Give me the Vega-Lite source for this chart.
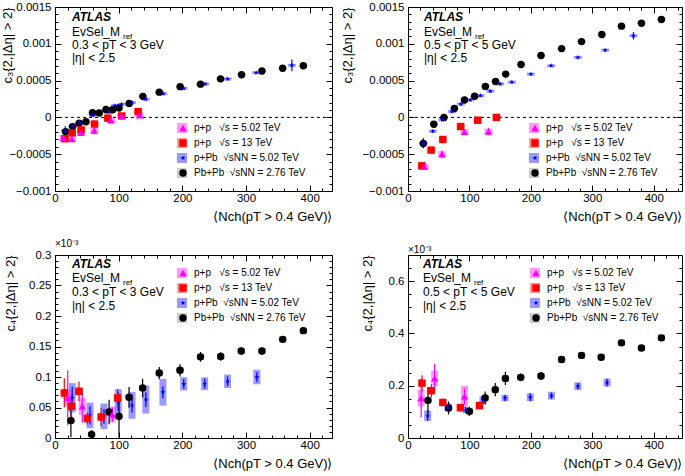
{
  "$schema": "https://vega.github.io/schema/vega-lite/v6.json",
  "padding": {"left": 0, "top": 0, "right": 0, "bottom": 0},
  "datasets": {
    "a": [
      {"s": "PbPb", "x": 16.7, "y": -0.000195, "e": 0.00004, "u": 0.00001},
      {"s": "PbPb", "x": 27.5, "y": -0.000125, "e": 0.00003, "u": 0.00001},
      {"s": "PbPb", "x": 38, "y": -0.00008, "e": 0.00002, "u": 0.00001},
      {"s": "PbPb", "x": 48.6, "y": -0.000058, "e": 0.00002, "u": 0.00001},
      {"s": "PbPb", "x": 59, "y": 0.000064, "e": 0.00001, "u": 0.00001},
      {"s": "PbPb", "x": 69.5, "y": 0.00006, "e": 0.00001, "u": 0.00001},
      {"s": "PbPb", "x": 80, "y": 0.000107, "e": 0.00001, "u": 0.00001},
      {"s": "PbPb", "x": 90.5, "y": 0.000105, "e": 0.00001, "u": 0.00001},
      {"s": "PbPb", "x": 100.5, "y": 0.000128, "e": 0.00001, "u": 0.00001},
      {"s": "PbPb", "x": 116.5, "y": 0.00019, "e": 0.00001, "u": 0.00001},
      {"s": "PbPb", "x": 138, "y": 0.000286, "e": 0.00001, "u": 0.00001},
      {"s": "PbPb", "x": 163.7, "y": 0.000343, "e": 0.00001, "u": 0.00001},
      {"s": "PbPb", "x": 196.5, "y": 0.000418, "e": 0.00001, "u": 0.00001},
      {"s": "PbPb", "x": 228.5, "y": 0.000452, "e": 0.00001, "u": 0.00001},
      {"s": "PbPb", "x": 260, "y": 0.000524, "e": 0.00001, "u": 0.00001},
      {"s": "PbPb", "x": 293, "y": 0.000579, "e": 0.00001, "u": 0.00001},
      {"s": "PbPb", "x": 325, "y": 0.000631, "e": 0.00001, "u": 0.00001},
      {"s": "PbPb", "x": 357.5, "y": 0.000667, "e": 0.00001, "u": 0.00001},
      {"s": "PbPb", "x": 390, "y": 0.000702, "e": 0.00001, "u": 0.00001},
      {"s": "pPb", "x": 16, "y": -0.00018, "e": 0.00006, "u": 0.00002},
      {"s": "pPb", "x": 28, "y": -0.00012, "e": 0.00004, "u": 0.00002},
      {"s": "pPb", "x": 39, "y": -0.00007, "e": 0.00002, "u": 0.00002},
      {"s": "pPb", "x": 59.5, "y": 0.00003, "e": 0.00001, "u": 0.00002},
      {"s": "pPb", "x": 84, "y": 0.00007, "e": 0.00001, "u": 0.00002},
      {"s": "pPb", "x": 94, "y": 0.00016, "e": 0.00001, "u": 0.00002},
      {"s": "pPb", "x": 104.6, "y": 0.000178, "e": 0.00001, "u": 0.00002},
      {"s": "pPb", "x": 121, "y": 0.0002, "e": 0.00001, "u": 0.00002},
      {"s": "pPb", "x": 142.5, "y": 0.000248, "e": 0.00001, "u": 0.00002},
      {"s": "pPb", "x": 170, "y": 0.000322, "e": 0.00001, "u": 0.00002},
      {"s": "pPb", "x": 202, "y": 0.000395, "e": 0.00001, "u": 0.00002},
      {"s": "pPb", "x": 236, "y": 0.000454, "e": 0.00001, "u": 0.00002},
      {"s": "pPb", "x": 271, "y": 0.000522, "e": 0.00001, "u": 0.00002},
      {"s": "pPb", "x": 316, "y": 0.000607, "e": 0.00001, "u": 0.00002},
      {"s": "pPb", "x": 372, "y": 0.000708, "e": 0.00008, "u": 0.00002},
      {"s": "pp13", "x": 15.7, "y": -0.00029, "e": 0.00002, "u": 0.00003},
      {"s": "pp13", "x": 27, "y": -0.00021, "e": 0.00002, "u": 0.00003},
      {"s": "pp13", "x": 41, "y": -0.00017, "e": 0.00002, "u": 0.00003},
      {"s": "pp13", "x": 62, "y": -0.00009, "e": 0.00002, "u": 0.00003},
      {"s": "pp13", "x": 83, "y": -0.00001, "e": 0.00002, "u": 0.00003},
      {"s": "pp13", "x": 104.6, "y": 0.00002, "e": 0.00002, "u": 0.00003},
      {"s": "pp13", "x": 130.5, "y": 0.000078, "e": 0.00002, "u": 0.00003},
      {"s": "pp5", "x": 13, "y": -0.00028, "e": 0.00003, "u": 0.00004},
      {"s": "pp5", "x": 26.5, "y": -0.000293, "e": 0.00003, "u": 0.00004},
      {"s": "pp5", "x": 40.8, "y": -0.00021, "e": 0.00003, "u": 0.00004},
      {"s": "pp5", "x": 61.6, "y": -0.00018, "e": 0.00005, "u": 0.00004},
      {"s": "pp5", "x": 88, "y": -0.00004, "e": 0.00002, "u": 0.00004},
      {"s": "pp5", "x": 104.6, "y": 0.00002, "e": 0.00002, "u": 0.00004},
      {"s": "pp5", "x": 133, "y": 0.00003, "e": 0.00004, "u": 0.00004}
    ],
    "b": [
      {"s": "PbPb", "x": 25, "y": -0.000355, "e": 0.00006, "u": 0.00001},
      {"s": "PbPb", "x": 42, "y": -0.000092, "e": 0.00004, "u": 0.00001},
      {"s": "PbPb", "x": 58.5, "y": 0.0, "e": 0.00002, "u": 0.00001},
      {"s": "PbPb", "x": 75.5, "y": 0.00012, "e": 0.00002, "u": 0.00001},
      {"s": "PbPb", "x": 92, "y": 0.000236, "e": 0.00001, "u": 0.00001},
      {"s": "PbPb", "x": 108.5, "y": 0.000287, "e": 0.00001, "u": 0.00001},
      {"s": "PbPb", "x": 126, "y": 0.000421, "e": 0.00001, "u": 0.00001},
      {"s": "PbPb", "x": 142.5, "y": 0.000488, "e": 0.00001, "u": 0.00001},
      {"s": "PbPb", "x": 159, "y": 0.000588, "e": 0.00001, "u": 0.00001},
      {"s": "PbPb", "x": 184, "y": 0.000718, "e": 0.00001, "u": 0.00001},
      {"s": "PbPb", "x": 216.5, "y": 0.00084, "e": 0.00001, "u": 0.00001},
      {"s": "PbPb", "x": 250, "y": 0.000935, "e": 0.00001, "u": 0.00001},
      {"s": "PbPb", "x": 282.5, "y": 0.00103, "e": 0.00001, "u": 0.00001},
      {"s": "PbPb", "x": 315.5, "y": 0.001127, "e": 0.00001, "u": 0.00001},
      {"s": "PbPb", "x": 347.5, "y": 0.00124, "e": 0.00001, "u": 0.00001},
      {"s": "PbPb", "x": 380, "y": 0.00128, "e": 0.00001, "u": 0.00001},
      {"s": "PbPb", "x": 412.5, "y": 0.00133, "e": 0.00001, "u": 0.00001},
      {"s": "pPb", "x": 25, "y": -0.00035, "e": 0.00007, "u": 0.00002},
      {"s": "pPb", "x": 40.5, "y": -0.000188, "e": 0.00002, "u": 0.00002},
      {"s": "pPb", "x": 56, "y": -0.000033, "e": 0.00001, "u": 0.00002},
      {"s": "pPb", "x": 71.5, "y": 0.00008, "e": 0.00001, "u": 0.00002},
      {"s": "pPb", "x": 86, "y": 0.000181, "e": 0.00001, "u": 0.00002},
      {"s": "pPb", "x": 101.5, "y": 0.000238, "e": 0.00001, "u": 0.00002},
      {"s": "pPb", "x": 118, "y": 0.000295, "e": 0.00001, "u": 0.00002},
      {"s": "pPb", "x": 134, "y": 0.000357, "e": 0.00001, "u": 0.00002},
      {"s": "pPb", "x": 150, "y": 0.000455, "e": 0.00001, "u": 0.00002},
      {"s": "pPb", "x": 169, "y": 0.00048, "e": 0.00001, "u": 0.00002},
      {"s": "pPb", "x": 200, "y": 0.000588, "e": 0.00001, "u": 0.00002},
      {"s": "pPb", "x": 233, "y": 0.000702, "e": 0.00001, "u": 0.00002},
      {"s": "pPb", "x": 276.5, "y": 0.000815, "e": 0.00001, "u": 0.00002},
      {"s": "pPb", "x": 321, "y": 0.000914, "e": 0.00001, "u": 0.00002},
      {"s": "pPb", "x": 367, "y": 0.00111, "e": 0.00005, "u": 0.00002},
      {"s": "pp13", "x": 22.5, "y": -0.000658, "e": 0.00002, "u": 0.00003},
      {"s": "pp13", "x": 37.7, "y": -0.000444, "e": 0.00002, "u": 0.00003},
      {"s": "pp13", "x": 56.7, "y": -0.0003, "e": 0.00002, "u": 0.00003},
      {"s": "pp13", "x": 85.7, "y": -0.000124, "e": 0.00002, "u": 0.00003},
      {"s": "pp13", "x": 113.5, "y": -0.000038, "e": 0.00002, "u": 0.00003},
      {"s": "pp13", "x": 144, "y": 0.0, "e": 0.00002, "u": 0.00003},
      {"s": "pp5", "x": 27, "y": -0.00067, "e": 0.00003, "u": 0.00004},
      {"s": "pp5", "x": 55.5, "y": -0.0005, "e": 0.00005, "u": 0.00004},
      {"s": "pp5", "x": 92, "y": -0.000197, "e": 0.00003, "u": 0.00004},
      {"s": "pp5", "x": 131, "y": -0.000192, "e": 0.00005, "u": 0.00004}
    ],
    "c": [
      {"s": "PbPb", "x": 25, "y": 0.0285, "e": 0.027, "u": 0.005},
      {"s": "PbPb", "x": 57.5, "y": 0.006, "e": 0.007, "u": 0.004},
      {"s": "PbPb", "x": 85, "y": 0.0426, "e": 0.02, "u": 0.005},
      {"s": "PbPb", "x": 100.5, "y": 0.0355, "e": 0.035, "u": 0.005},
      {"s": "PbPb", "x": 116.3, "y": 0.0667, "e": 0.017, "u": 0.005},
      {"s": "PbPb", "x": 137.6, "y": 0.082, "e": 0.015, "u": 0.005},
      {"s": "PbPb", "x": 163.7, "y": 0.1065, "e": 0.01, "u": 0.005},
      {"s": "PbPb", "x": 196.3, "y": 0.111, "e": 0.01, "u": 0.005},
      {"s": "PbPb", "x": 228.5, "y": 0.133, "e": 0.008, "u": 0.005},
      {"s": "PbPb", "x": 260.2, "y": 0.1335, "e": 0.007, "u": 0.005},
      {"s": "PbPb", "x": 292.5, "y": 0.1425, "e": 0.006, "u": 0.005},
      {"s": "PbPb", "x": 325, "y": 0.1425, "e": 0.006, "u": 0.005},
      {"s": "PbPb", "x": 357.6, "y": 0.1617, "e": 0.005, "u": 0.005},
      {"s": "PbPb", "x": 390, "y": 0.176, "e": 0.005, "u": 0.005},
      {"s": "pPb", "x": 27, "y": 0.066, "e": 0.018, "u": 0.024},
      {"s": "pPb", "x": 54.9, "y": 0.037, "e": 0.015, "u": 0.021},
      {"s": "pPb", "x": 76.9, "y": 0.0355, "e": 0.012, "u": 0.021},
      {"s": "pPb", "x": 99.3, "y": 0.06, "e": 0.015, "u": 0.02},
      {"s": "pPb", "x": 121, "y": 0.0535, "e": 0.012, "u": 0.022},
      {"s": "pPb", "x": 142.7, "y": 0.063, "e": 0.012, "u": 0.023},
      {"s": "pPb", "x": 169.5, "y": 0.075, "e": 0.01, "u": 0.022},
      {"s": "pPb", "x": 202.2, "y": 0.0888, "e": 0.008, "u": 0.011},
      {"s": "pPb", "x": 235, "y": 0.089, "e": 0.008, "u": 0.0105},
      {"s": "pPb", "x": 271, "y": 0.093, "e": 0.008, "u": 0.011},
      {"s": "pPb", "x": 317, "y": 0.1, "e": 0.008, "u": 0.012},
      {"s": "pp13", "x": 14.6, "y": 0.0738, "e": 0.024, "u": 0.006},
      {"s": "pp13", "x": 26, "y": 0.052, "e": 0.02, "u": 0.006},
      {"s": "pp13", "x": 37.6, "y": 0.0766, "e": 0.016, "u": 0.006},
      {"s": "pp13", "x": 50.7, "y": 0.032, "e": 0.01, "u": 0.006},
      {"s": "pp13", "x": 72.5, "y": 0.0345, "e": 0.015, "u": 0.006},
      {"s": "pp13", "x": 98.3, "y": 0.0656, "e": 0.015, "u": 0.006},
      {"s": "pp5", "x": 20, "y": 0.066, "e": 0.045, "u": 0.014},
      {"s": "pp5", "x": 42.8, "y": 0.052, "e": 0.027, "u": 0.014},
      {"s": "pp5", "x": 90, "y": 0.0385, "e": 0.012, "u": 0.013}
    ],
    "d": [
      {"s": "PbPb", "x": 32.5, "y": 0.144, "e": 0.05, "u": 0.012},
      {"s": "PbPb", "x": 66, "y": 0.115, "e": 0.025, "u": 0.012},
      {"s": "PbPb", "x": 100, "y": 0.102, "e": 0.018, "u": 0.012},
      {"s": "PbPb", "x": 125.5, "y": 0.153, "e": 0.025, "u": 0.012},
      {"s": "PbPb", "x": 142, "y": 0.185, "e": 0.025, "u": 0.012},
      {"s": "PbPb", "x": 158.5, "y": 0.228, "e": 0.025, "u": 0.012},
      {"s": "PbPb", "x": 183.5, "y": 0.232, "e": 0.015, "u": 0.012},
      {"s": "PbPb", "x": 216.5, "y": 0.237, "e": 0.015, "u": 0.012},
      {"s": "PbPb", "x": 250, "y": 0.3, "e": 0.012, "u": 0.012},
      {"s": "PbPb", "x": 282.5, "y": 0.316, "e": 0.012, "u": 0.012},
      {"s": "PbPb", "x": 314.5, "y": 0.309, "e": 0.01, "u": 0.012},
      {"s": "PbPb", "x": 347.5, "y": 0.364, "e": 0.01, "u": 0.012},
      {"s": "PbPb", "x": 380, "y": 0.344, "e": 0.01, "u": 0.012},
      {"s": "PbPb", "x": 412.5, "y": 0.383, "e": 0.01, "u": 0.012},
      {"s": "pPb", "x": 32, "y": 0.0855, "e": 0.02, "u": 0.02},
      {"s": "pPb", "x": 65, "y": 0.117, "e": 0.012, "u": 0.015},
      {"s": "pPb", "x": 94, "y": 0.107, "e": 0.012, "u": 0.012},
      {"s": "pPb", "x": 122, "y": 0.144, "e": 0.015, "u": 0.015},
      {"s": "pPb", "x": 158, "y": 0.153, "e": 0.012, "u": 0.012},
      {"s": "pPb", "x": 199, "y": 0.156, "e": 0.015, "u": 0.015},
      {"s": "pPb", "x": 233.5, "y": 0.162, "e": 0.012, "u": 0.015},
      {"s": "pPb", "x": 276.5, "y": 0.198, "e": 0.012, "u": 0.015},
      {"s": "pPb", "x": 324, "y": 0.212, "e": 0.015, "u": 0.015},
      {"s": "pp13", "x": 22.8, "y": 0.21, "e": 0.03, "u": 0.01},
      {"s": "pp13", "x": 38, "y": 0.181, "e": 0.025, "u": 0.01},
      {"s": "pp13", "x": 56.7, "y": 0.136, "e": 0.015, "u": 0.01},
      {"s": "pp13", "x": 85.3, "y": 0.116, "e": 0.015, "u": 0.01},
      {"s": "pp13", "x": 116.3, "y": 0.124, "e": 0.015, "u": 0.01},
      {"s": "pp5", "x": 21.4, "y": 0.153, "e": 0.075, "u": 0.032},
      {"s": "pp5", "x": 43.3, "y": 0.228, "e": 0.055, "u": 0.03},
      {"s": "pp5", "x": 92, "y": 0.16, "e": 0.03, "u": 0.04}
    ]
  },
  "columns": 2,
  "align": "each",
  "spacing": {"column": 7, "row": 14},
  "resolve": {
    "scale": {"color": "independent", "fill": "independent", "shape": "independent", "opacity": "independent"},
    "legend": {"color": "independent", "fill": "independent", "shape": "independent"}
  },
  "concat": [
    {
      "width": 277, "height": 184,
      "data": {"name": "a"},
      "resolve": {"axis": {"x": "independent", "y": "independent"}, "scale": {"color": "independent", "fill": "independent", "shape": "independent", "opacity": "independent"}, "legend": {"color": "independent", "fill": "independent", "shape": "independent"}},
      "layer": [
        {
          "mark": {"type": "errorbar", "thickness": 8},
          "encoding": {
            "x": {"field": "x", "type": "quantitative", "scale": {"domain": [0, 435], "nice": false}, "axis": {"orient": "bottom", "values": [0, 100, 200, 300, 400], "title": "⟨Nch(pT > 0.4 GeV)⟩", "titleAnchor": "end", "labelOverlap": false, "labelPadding": 7.5, "titlePadding": 6}},
            "y": {"field": "y", "type": "quantitative", "scale": {"domain": [-0.001, 0.0015], "nice": false}, "axis": {"orient": "left", "values": [-0.001, -0.0005, 0, 0.0005, 0.001, 0.0015], "format": "~g", "labelOverlap": false, "title": "c₃{2,|Δη| > 2}", "titleAnchor": "end", "minExtent": 38, "maxExtent": 38, "titlePadding": 3}},
            "yError": {"field": "u"},
            "color": {"field": "s", "type": "nominal", "scale": {"domain": ["pp5", "pp13", "pPb", "PbPb"], "range": ["#ff00ff", "#ff0000", "#0000ff", "#000000"]}, "legend": null},
            "opacity": {"field": "s", "type": "nominal", "scale": {"domain": ["pp5", "pp13", "pPb", "PbPb"], "range": [0.4, 0.4, 0.4, 0.2]}, "legend": null}
          }
        },
        {
          "data": {"values": [{}]},
          "mark": {"type": "rule", "strokeDash": [3, 3], "color": "#000", "strokeWidth": 1},
          "encoding": {"y": {"datum": 0, "type": "quantitative", "axis": null}}
        },
        {
          "mark": {"type": "errorbar", "thickness": 1.2},
          "encoding": {
            "x": {"field": "x", "type": "quantitative", "scale": {"domain": [0, 435], "nice": false}, "axis": {"orient": "bottom", "values": [20, 40, 60, 80, 120, 140, 160, 180, 220, 240, 260, 280, 320, 340, 360, 380, 420], "labels": false, "title": null, "tickSize": -3, "minExtent": 0, "maxExtent": 0}},
            "y": {"field": "y", "type": "quantitative", "scale": {"domain": [-0.001, 0.0015], "nice": false}, "axis": {"orient": "left", "values": [-0.0009, -0.0008, -0.0007, -0.0006, -0.0004, -0.0003, -0.0002, -0.0001, 0.0001, 0.0002, 0.0003, 0.0004, 0.0006, 0.0007, 0.0008, 0.0009, 0.0011, 0.0012, 0.0013, 0.0014], "labels": false, "title": null, "tickSize": -3, "minExtent": 0, "maxExtent": 0}},
            "yError": {"field": "e"},
            "color": {"field": "s", "type": "nominal", "scale": {"domain": ["pp5", "pp13", "pPb", "PbPb"], "range": ["#ff00ff", "#ff0000", "#0000ff", "#000000"]}, "legend": null}
          }
        },
        {
          "mark": {"type": "point", "filled": true, "size": 55, "opacity": 1, "strokeWidth": 0},
          "encoding": {
            "x": {"field": "x", "type": "quantitative", "scale": {"domain": [0, 435], "nice": false}, "axis": {"orient": "top", "values": [0, 100, 200, 300, 400], "labels": false, "title": null, "minExtent": 0, "maxExtent": 0}},
            "y": {"field": "y", "type": "quantitative", "scale": {"domain": [-0.001, 0.0015], "nice": false}, "axis": {"orient": "right", "values": [-0.001, -0.0005, 0, 0.0005, 0.001, 0.0015], "labels": false, "title": null, "minExtent": 0, "maxExtent": 0}},
            "color": {"field": "s", "type": "nominal", "scale": {"domain": ["pp5", "pp13", "pPb", "PbPb"], "range": ["#ff00ff", "#ff0000", "#0000ff", "#000000"]},
              "legend": {"orient": "none", "legendX": 123, "legendY": 116, "title": null, "labelExpr": "{'pp5':'p+p\u00a0\u00a0\u00a0√s = 5.02 TeV','pp13':'p+p\u00a0\u00a0\u00a0√s = 13 TeV','pPb':'p+Pb\u00a0\u00a0√sNN = 5.02 TeV','PbPb':'Pb+Pb\u00a0\u00a0√sNN = 2.76 TeV'}[datum.value]", "symbolSize": 55, "labelFontSize": 10, "rowPadding": 5, "labelOffset": 6}},
            "shape": {"field": "s", "type": "nominal", "scale": {"domain": ["pp5", "pp13", "pPb", "PbPb"], "range": ["triangle-up", "square", "M0,-0.7L0.17,-0.24L0.67,-0.22L0.28,0.09L0.41,0.57L0,0.29L-0.41,0.57L-0.28,0.09L-0.67,-0.22L-0.17,-0.24Z", "circle"]},
              "legend": {"orient": "none", "legendX": 123, "legendY": 116, "title": null, "labelExpr": "{'pp5':'p+p\u00a0\u00a0\u00a0√s = 5.02 TeV','pp13':'p+p\u00a0\u00a0\u00a0√s = 13 TeV','pPb':'p+Pb\u00a0\u00a0√sNN = 5.02 TeV','PbPb':'Pb+Pb\u00a0\u00a0√sNN = 2.76 TeV'}[datum.value]", "symbolSize": 55, "labelFontSize": 10, "rowPadding": 5, "labelOffset": 6}}
          }
        },
        {
          "transform": [{"filter": "false"}],
          "mark": {"type": "point", "shape": "square", "filled": true, "opacity": 1},
          "encoding": {
            "x": {"field": "x", "type": "quantitative", "scale": {"domain": [0, 435], "nice": false}, "axis": {"orient": "top", "values": [20, 40, 60, 80, 120, 140, 160, 180, 220, 240, 260, 280, 320, 340, 360, 380, 420], "labels": false, "title": null, "tickSize": -3, "minExtent": 0, "maxExtent": 0}},
            "y": {"field": "y", "type": "quantitative", "scale": {"domain": [-0.001, 0.0015], "nice": false}, "axis": {"orient": "right", "values": [-0.0009, -0.0008, -0.0007, -0.0006, -0.0004, -0.0003, -0.0002, -0.0001, 0.0001, 0.0002, 0.0003, 0.0004, 0.0006, 0.0007, 0.0008, 0.0009, 0.0011, 0.0012, 0.0013, 0.0014], "labels": false, "title": null, "tickSize": -3, "minExtent": 0, "maxExtent": 0}},
            "fill": {"field": "k", "type": "nominal", "scale": {"domain": ["b1", "b2", "b3", "b4"], "range": ["rgba(255,0,255,0.4)", "rgba(255,0,0,0.4)", "rgba(0,0,255,0.4)", "rgba(0,0,0,0.2)"]},
              "legend": {"orient": "none", "legendX": 122, "legendY": 116, "title": null, "symbolType": "square", "symbolSize": 100, "symbolStrokeWidth": 0, "labelExpr": "''", "labelFontSize": 10, "rowPadding": 5, "labelOffset": 6}}
          }
        },
        {"data": {"values": [{}]}, "mark": {"type": "text", "text": "ATLAS", "fontStyle": "italic", "fontWeight": "bold", "fontSize": 12, "align": "left", "baseline": "middle", "x": 17, "y": 10}},
        {"data": {"values": [{}]}, "mark": {"type": "text", "text": "EvSel_M", "fontSize": 12, "align": "left", "baseline": "middle", "x": 17, "y": 25}},
        {"data": {"values": [{}]}, "mark": {"type": "text", "text": "ref", "fontSize": 8, "align": "left", "baseline": "middle", "x": 68, "y": 30}},
        {"data": {"values": [{}]}, "mark": {"type": "text", "text": "0.3 < pT < 3 GeV", "fontSize": 12, "align": "left", "baseline": "middle", "x": 17, "y": 38}},
        {"data": {"values": [{}]}, "mark": {"type": "text", "text": "|η| < 2.5", "fontSize": 12, "align": "left", "baseline": "middle", "x": 17, "y": 51}}
      ]
    },
    {
      "width": 274, "height": 184,
      "data": {"name": "b"},
      "resolve": {"axis": {"x": "independent", "y": "independent"}, "scale": {"color": "independent", "fill": "independent", "shape": "independent", "opacity": "independent"}, "legend": {"color": "independent", "fill": "independent", "shape": "independent"}},
      "layer": [
        {
          "mark": {"type": "errorbar", "thickness": 8},
          "encoding": {
            "x": {"field": "x", "type": "quantitative", "scale": {"domain": [0, 446], "nice": false}, "axis": {"orient": "bottom", "values": [0, 100, 200, 300, 400], "title": "⟨Nch(pT > 0.4 GeV)⟩", "titleAnchor": "end", "labelOverlap": false, "labelPadding": 7.5, "titlePadding": 6}},
            "y": {"field": "y", "type": "quantitative", "scale": {"domain": [-0.001, 0.0015], "nice": false}, "axis": {"orient": "left", "values": [-0.001, -0.0005, 0, 0.0005, 0.001, 0.0015], "format": "~g", "labelOverlap": false, "title": "c₃{2,|Δη| > 2}", "titleAnchor": "end", "minExtent": 40, "maxExtent": 40, "titlePadding": 14}},
            "yError": {"field": "u"},
            "color": {"field": "s", "type": "nominal", "scale": {"domain": ["pp5", "pp13", "pPb", "PbPb"], "range": ["#ff00ff", "#ff0000", "#0000ff", "#000000"]}, "legend": null},
            "opacity": {"field": "s", "type": "nominal", "scale": {"domain": ["pp5", "pp13", "pPb", "PbPb"], "range": [0.4, 0.4, 0.4, 0.2]}, "legend": null}
          }
        },
        {
          "data": {"values": [{}]},
          "mark": {"type": "rule", "strokeDash": [3, 3], "color": "#000", "strokeWidth": 1},
          "encoding": {"y": {"datum": 0, "type": "quantitative", "axis": null}}
        },
        {
          "mark": {"type": "errorbar", "thickness": 1.2},
          "encoding": {
            "x": {"field": "x", "type": "quantitative", "scale": {"domain": [0, 446], "nice": false}, "axis": {"orient": "bottom", "values": [20, 40, 60, 80, 120, 140, 160, 180, 220, 240, 260, 280, 320, 340, 360, 380, 420, 440], "labels": false, "title": null, "tickSize": -3, "minExtent": 0, "maxExtent": 0}},
            "y": {"field": "y", "type": "quantitative", "scale": {"domain": [-0.001, 0.0015], "nice": false}, "axis": {"orient": "left", "values": [-0.0009, -0.0008, -0.0007, -0.0006, -0.0004, -0.0003, -0.0002, -0.0001, 0.0001, 0.0002, 0.0003, 0.0004, 0.0006, 0.0007, 0.0008, 0.0009, 0.0011, 0.0012, 0.0013, 0.0014], "labels": false, "title": null, "tickSize": -3, "minExtent": 0, "maxExtent": 0}},
            "yError": {"field": "e"},
            "color": {"field": "s", "type": "nominal", "scale": {"domain": ["pp5", "pp13", "pPb", "PbPb"], "range": ["#ff00ff", "#ff0000", "#0000ff", "#000000"]}, "legend": null}
          }
        },
        {
          "mark": {"type": "point", "filled": true, "size": 55, "opacity": 1, "strokeWidth": 0},
          "encoding": {
            "x": {"field": "x", "type": "quantitative", "scale": {"domain": [0, 446], "nice": false}, "axis": {"orient": "top", "values": [0, 100, 200, 300, 400], "labels": false, "title": null, "minExtent": 0, "maxExtent": 0}},
            "y": {"field": "y", "type": "quantitative", "scale": {"domain": [-0.001, 0.0015], "nice": false}, "axis": {"orient": "right", "values": [-0.001, -0.0005, 0, 0.0005, 0.001, 0.0015], "labels": false, "title": null, "minExtent": 0, "maxExtent": 0}},
            "color": {"field": "s", "type": "nominal", "scale": {"domain": ["pp5", "pp13", "pPb", "PbPb"], "range": ["#ff00ff", "#ff0000", "#0000ff", "#000000"]},
              "legend": {"orient": "none", "legendX": 122, "legendY": 116, "title": null, "labelExpr": "{'pp5':'p+p\u00a0\u00a0\u00a0√s = 5.02 TeV','pp13':'p+p\u00a0\u00a0\u00a0√s = 13 TeV','pPb':'p+Pb\u00a0\u00a0√sNN = 5.02 TeV','PbPb':'Pb+Pb\u00a0\u00a0√sNN = 2.76 TeV'}[datum.value]", "symbolSize": 55, "labelFontSize": 10, "rowPadding": 5, "labelOffset": 6}},
            "shape": {"field": "s", "type": "nominal", "scale": {"domain": ["pp5", "pp13", "pPb", "PbPb"], "range": ["triangle-up", "square", "M0,-0.7L0.17,-0.24L0.67,-0.22L0.28,0.09L0.41,0.57L0,0.29L-0.41,0.57L-0.28,0.09L-0.67,-0.22L-0.17,-0.24Z", "circle"]},
              "legend": {"orient": "none", "legendX": 122, "legendY": 116, "title": null, "labelExpr": "{'pp5':'p+p\u00a0\u00a0\u00a0√s = 5.02 TeV','pp13':'p+p\u00a0\u00a0\u00a0√s = 13 TeV','pPb':'p+Pb\u00a0\u00a0√sNN = 5.02 TeV','PbPb':'Pb+Pb\u00a0\u00a0√sNN = 2.76 TeV'}[datum.value]", "symbolSize": 55, "labelFontSize": 10, "rowPadding": 5, "labelOffset": 6}}
          }
        },
        {
          "transform": [{"filter": "false"}],
          "mark": {"type": "point", "shape": "square", "filled": true, "opacity": 1},
          "encoding": {
            "x": {"field": "x", "type": "quantitative", "scale": {"domain": [0, 446], "nice": false}, "axis": {"orient": "top", "values": [20, 40, 60, 80, 120, 140, 160, 180, 220, 240, 260, 280, 320, 340, 360, 380, 420, 440], "labels": false, "title": null, "tickSize": -3, "minExtent": 0, "maxExtent": 0}},
            "y": {"field": "y", "type": "quantitative", "scale": {"domain": [-0.001, 0.0015], "nice": false}, "axis": {"orient": "right", "values": [-0.0009, -0.0008, -0.0007, -0.0006, -0.0004, -0.0003, -0.0002, -0.0001, 0.0001, 0.0002, 0.0003, 0.0004, 0.0006, 0.0007, 0.0008, 0.0009, 0.0011, 0.0012, 0.0013, 0.0014], "labels": false, "title": null, "tickSize": -3, "minExtent": 0, "maxExtent": 0}},
            "fill": {"field": "k", "type": "nominal", "scale": {"domain": ["b1", "b2", "b3", "b4"], "range": ["rgba(255,0,255,0.4)", "rgba(255,0,0,0.4)", "rgba(0,0,255,0.4)", "rgba(0,0,0,0.2)"]},
              "legend": {"orient": "none", "legendX": 121, "legendY": 116, "title": null, "symbolType": "square", "symbolSize": 100, "symbolStrokeWidth": 0, "labelExpr": "''", "labelFontSize": 10, "rowPadding": 5, "labelOffset": 6}}
          }
        },
        {"data": {"values": [{}]}, "mark": {"type": "text", "text": "ATLAS", "fontStyle": "italic", "fontWeight": "bold", "fontSize": 12, "align": "left", "baseline": "middle", "x": 16, "y": 10}},
        {"data": {"values": [{}]}, "mark": {"type": "text", "text": "EvSel_M", "fontSize": 12, "align": "left", "baseline": "middle", "x": 16, "y": 25}},
        {"data": {"values": [{}]}, "mark": {"type": "text", "text": "ref", "fontSize": 8, "align": "left", "baseline": "middle", "x": 67, "y": 30}},
        {"data": {"values": [{}]}, "mark": {"type": "text", "text": "0.5 < pT < 5 GeV", "fontSize": 12, "align": "left", "baseline": "middle", "x": 16, "y": 38}},
        {"data": {"values": [{}]}, "mark": {"type": "text", "text": "|η| < 2.5", "fontSize": 12, "align": "left", "baseline": "middle", "x": 16, "y": 51}}
      ]
    },
    {
      "width": 277, "height": 183,
      "title": {"text": "×10⁻³", "anchor": "start", "frame": "group", "fontSize": 10, "fontWeight": "normal", "offset": 0, "color": "#000"},
      "data": {"name": "c"},
      "resolve": {"axis": {"x": "independent", "y": "independent"}, "scale": {"color": "independent", "fill": "independent", "shape": "independent", "opacity": "independent"}, "legend": {"color": "independent", "fill": "independent", "shape": "independent"}},
      "layer": [
        {
          "mark": {"type": "errorbar", "thickness": 7},
          "encoding": {
            "x": {"field": "x", "type": "quantitative", "scale": {"domain": [0, 435], "nice": false}, "axis": {"orient": "bottom", "values": [0, 100, 200, 300, 400], "title": "⟨Nch(pT > 0.4 GeV)⟩", "titleAnchor": "end", "labelOverlap": false, "labelPadding": 7.5, "titlePadding": 6}},
            "y": {"field": "y", "type": "quantitative", "scale": {"domain": [0, 0.3], "nice": false}, "axis": {"orient": "left", "values": [0, 0.05, 0.1, 0.15, 0.2, 0.25, 0.3], "format": "~g", "labelOverlap": false, "title": "c₄{2,|Δη| > 2}", "titleAnchor": "end", "minExtent": 33, "maxExtent": 33, "titlePadding": 5}},
            "yError": {"field": "u"},
            "color": {"field": "s", "type": "nominal", "scale": {"domain": ["pp5", "pp13", "pPb", "PbPb"], "range": ["#ff00ff", "#ff0000", "#0000ff", "#000000"]}, "legend": null},
            "opacity": {"field": "s", "type": "nominal", "scale": {"domain": ["pp5", "pp13", "pPb", "PbPb"], "range": [0.4, 0.4, 0.4, 0.2]}, "legend": null}
          }
        },
        {
          "mark": {"type": "errorbar", "thickness": 1.2},
          "encoding": {
            "x": {"field": "x", "type": "quantitative", "scale": {"domain": [0, 435], "nice": false}, "axis": {"orient": "bottom", "values": [20, 40, 60, 80, 120, 140, 160, 180, 220, 240, 260, 280, 320, 340, 360, 380, 420], "labels": false, "title": null, "tickSize": -3, "minExtent": 0, "maxExtent": 0}},
            "y": {"field": "y", "type": "quantitative", "scale": {"domain": [0, 0.3], "nice": false}, "axis": {"orient": "left", "values": [0.01, 0.02, 0.03, 0.04, 0.06, 0.07, 0.08, 0.09, 0.11, 0.12, 0.13, 0.14, 0.16, 0.17, 0.18, 0.19, 0.21, 0.22, 0.23, 0.24, 0.26, 0.27, 0.28, 0.29], "labels": false, "title": null, "tickSize": -3, "minExtent": 0, "maxExtent": 0}},
            "yError": {"field": "e"},
            "color": {"field": "s", "type": "nominal", "scale": {"domain": ["pp5", "pp13", "pPb", "PbPb"], "range": ["#ff00ff", "#ff0000", "#0000ff", "#000000"]}, "legend": null}
          }
        },
        {
          "mark": {"type": "point", "filled": true, "size": 55, "opacity": 1, "strokeWidth": 0},
          "encoding": {
            "x": {"field": "x", "type": "quantitative", "scale": {"domain": [0, 435], "nice": false}, "axis": {"orient": "top", "values": [0, 100, 200, 300, 400], "labels": false, "title": null, "minExtent": 0, "maxExtent": 0}},
            "y": {"field": "y", "type": "quantitative", "scale": {"domain": [0, 0.3], "nice": false}, "axis": {"orient": "right", "values": [0, 0.05, 0.1, 0.15, 0.2, 0.25, 0.3], "labels": false, "title": null, "minExtent": 0, "maxExtent": 0}},
            "color": {"field": "s", "type": "nominal", "scale": {"domain": ["pp5", "pp13", "pPb", "PbPb"], "range": ["#ff00ff", "#ff0000", "#0000ff", "#000000"]},
              "legend": {"orient": "none", "legendX": 123, "legendY": 13, "title": null, "labelExpr": "{'pp5':'p+p\u00a0\u00a0\u00a0√s = 5.02 TeV','pp13':'p+p\u00a0\u00a0\u00a0√s = 13 TeV','pPb':'p+Pb\u00a0\u00a0√sNN = 5.02 TeV','PbPb':'Pb+Pb\u00a0\u00a0√sNN = 2.76 TeV'}[datum.value]", "symbolSize": 55, "labelFontSize": 10, "rowPadding": 5, "labelOffset": 6}},
            "shape": {"field": "s", "type": "nominal", "scale": {"domain": ["pp5", "pp13", "pPb", "PbPb"], "range": ["triangle-up", "square", "M0,-0.7L0.17,-0.24L0.67,-0.22L0.28,0.09L0.41,0.57L0,0.29L-0.41,0.57L-0.28,0.09L-0.67,-0.22L-0.17,-0.24Z", "circle"]},
              "legend": {"orient": "none", "legendX": 123, "legendY": 13, "title": null, "labelExpr": "{'pp5':'p+p\u00a0\u00a0\u00a0√s = 5.02 TeV','pp13':'p+p\u00a0\u00a0\u00a0√s = 13 TeV','pPb':'p+Pb\u00a0\u00a0√sNN = 5.02 TeV','PbPb':'Pb+Pb\u00a0\u00a0√sNN = 2.76 TeV'}[datum.value]", "symbolSize": 55, "labelFontSize": 10, "rowPadding": 5, "labelOffset": 6}}
          }
        },
        {
          "transform": [{"filter": "false"}],
          "mark": {"type": "point", "shape": "square", "filled": true, "opacity": 1},
          "encoding": {
            "x": {"field": "x", "type": "quantitative", "scale": {"domain": [0, 435], "nice": false}, "axis": {"orient": "top", "values": [20, 40, 60, 80, 120, 140, 160, 180, 220, 240, 260, 280, 320, 340, 360, 380, 420], "labels": false, "title": null, "tickSize": -3, "minExtent": 0, "maxExtent": 0}},
            "y": {"field": "y", "type": "quantitative", "scale": {"domain": [0, 0.3], "nice": false}, "axis": {"orient": "right", "values": [0.01, 0.02, 0.03, 0.04, 0.06, 0.07, 0.08, 0.09, 0.11, 0.12, 0.13, 0.14, 0.16, 0.17, 0.18, 0.19, 0.21, 0.22, 0.23, 0.24, 0.26, 0.27, 0.28, 0.29], "labels": false, "title": null, "tickSize": -3, "minExtent": 0, "maxExtent": 0}},
            "fill": {"field": "k", "type": "nominal", "scale": {"domain": ["b1", "b2", "b3", "b4"], "range": ["rgba(255,0,255,0.4)", "rgba(255,0,0,0.4)", "rgba(0,0,255,0.4)", "rgba(0,0,0,0.2)"]},
              "legend": {"orient": "none", "legendX": 122, "legendY": 13, "title": null, "symbolType": "square", "symbolSize": 100, "symbolStrokeWidth": 0, "labelExpr": "''", "labelFontSize": 10, "rowPadding": 5, "labelOffset": 6}}
          }
        },
        {"data": {"values": [{}]}, "mark": {"type": "text", "text": "ATLAS", "fontStyle": "italic", "fontWeight": "bold", "fontSize": 12, "align": "left", "baseline": "middle", "x": 17, "y": 9}},
        {"data": {"values": [{}]}, "mark": {"type": "text", "text": "EvSel_M", "fontSize": 12, "align": "left", "baseline": "middle", "x": 17, "y": 23}},
        {"data": {"values": [{}]}, "mark": {"type": "text", "text": "ref", "fontSize": 8, "align": "left", "baseline": "middle", "x": 68, "y": 28}},
        {"data": {"values": [{}]}, "mark": {"type": "text", "text": "0.3 < pT < 3 GeV", "fontSize": 12, "align": "left", "baseline": "middle", "x": 17, "y": 37}},
        {"data": {"values": [{}]}, "mark": {"type": "text", "text": "|η| < 2.5", "fontSize": 12, "align": "left", "baseline": "middle", "x": 17, "y": 51}}
      ]
    },
    {
      "width": 274, "height": 183,
      "title": {"text": "×10⁻³", "anchor": "start", "frame": "group", "fontSize": 10, "fontWeight": "normal", "offset": 0, "color": "#000"},
      "data": {"name": "d"},
      "resolve": {"axis": {"x": "independent", "y": "independent"}, "scale": {"color": "independent", "fill": "independent", "shape": "independent", "opacity": "independent"}, "legend": {"color": "independent", "fill": "independent", "shape": "independent"}},
      "layer": [
        {
          "mark": {"type": "errorbar", "thickness": 7},
          "encoding": {
            "x": {"field": "x", "type": "quantitative", "scale": {"domain": [0, 446], "nice": false}, "axis": {"orient": "bottom", "values": [0, 100, 200, 300, 400], "title": "⟨Nch(pT > 0.4 GeV)⟩", "titleAnchor": "end", "labelOverlap": false, "labelPadding": 7.5, "titlePadding": 6}},
            "y": {"field": "y", "type": "quantitative", "scale": {"domain": [0, 0.7], "nice": false}, "axis": {"orient": "left", "values": [0, 0.2, 0.4, 0.6], "format": "~g", "labelOverlap": false, "title": "c₄{2,|Δη| > 2}", "titleAnchor": "end", "minExtent": 28, "maxExtent": 28, "titlePadding": 6}},
            "yError": {"field": "u"},
            "color": {"field": "s", "type": "nominal", "scale": {"domain": ["pp5", "pp13", "pPb", "PbPb"], "range": ["#ff00ff", "#ff0000", "#0000ff", "#000000"]}, "legend": null},
            "opacity": {"field": "s", "type": "nominal", "scale": {"domain": ["pp5", "pp13", "pPb", "PbPb"], "range": [0.4, 0.4, 0.4, 0.2]}, "legend": null}
          }
        },
        {
          "mark": {"type": "errorbar", "thickness": 1.2},
          "encoding": {
            "x": {"field": "x", "type": "quantitative", "scale": {"domain": [0, 446], "nice": false}, "axis": {"orient": "bottom", "values": [20, 40, 60, 80, 120, 140, 160, 180, 220, 240, 260, 280, 320, 340, 360, 380, 420, 440], "labels": false, "title": null, "tickSize": -3, "minExtent": 0, "maxExtent": 0}},
            "y": {"field": "y", "type": "quantitative", "scale": {"domain": [0, 0.7], "nice": false}, "axis": {"orient": "left", "values": [0.05, 0.1, 0.15, 0.25, 0.3, 0.35, 0.45, 0.5, 0.55, 0.65], "labels": false, "title": null, "tickSize": -3, "minExtent": 0, "maxExtent": 0}},
            "yError": {"field": "e"},
            "color": {"field": "s", "type": "nominal", "scale": {"domain": ["pp5", "pp13", "pPb", "PbPb"], "range": ["#ff00ff", "#ff0000", "#0000ff", "#000000"]}, "legend": null}
          }
        },
        {
          "mark": {"type": "point", "filled": true, "size": 55, "opacity": 1, "strokeWidth": 0},
          "encoding": {
            "x": {"field": "x", "type": "quantitative", "scale": {"domain": [0, 446], "nice": false}, "axis": {"orient": "top", "values": [0, 100, 200, 300, 400], "labels": false, "title": null, "minExtent": 0, "maxExtent": 0}},
            "y": {"field": "y", "type": "quantitative", "scale": {"domain": [0, 0.7], "nice": false}, "axis": {"orient": "right", "values": [0, 0.2, 0.4, 0.6], "labels": false, "title": null, "minExtent": 0, "maxExtent": 0}},
            "color": {"field": "s", "type": "nominal", "scale": {"domain": ["pp5", "pp13", "pPb", "PbPb"], "range": ["#ff00ff", "#ff0000", "#0000ff", "#000000"]},
              "legend": {"orient": "none", "legendX": 123, "legendY": 13, "title": null, "labelExpr": "{'pp5':'p+p\u00a0\u00a0\u00a0√s = 5.02 TeV','pp13':'p+p\u00a0\u00a0\u00a0√s = 13 TeV','pPb':'p+Pb\u00a0\u00a0√sNN = 5.02 TeV','PbPb':'Pb+Pb\u00a0\u00a0√sNN = 2.76 TeV'}[datum.value]", "symbolSize": 55, "labelFontSize": 10, "rowPadding": 5, "labelOffset": 6}},
            "shape": {"field": "s", "type": "nominal", "scale": {"domain": ["pp5", "pp13", "pPb", "PbPb"], "range": ["triangle-up", "square", "M0,-0.7L0.17,-0.24L0.67,-0.22L0.28,0.09L0.41,0.57L0,0.29L-0.41,0.57L-0.28,0.09L-0.67,-0.22L-0.17,-0.24Z", "circle"]},
              "legend": {"orient": "none", "legendX": 123, "legendY": 13, "title": null, "labelExpr": "{'pp5':'p+p\u00a0\u00a0\u00a0√s = 5.02 TeV','pp13':'p+p\u00a0\u00a0\u00a0√s = 13 TeV','pPb':'p+Pb\u00a0\u00a0√sNN = 5.02 TeV','PbPb':'Pb+Pb\u00a0\u00a0√sNN = 2.76 TeV'}[datum.value]", "symbolSize": 55, "labelFontSize": 10, "rowPadding": 5, "labelOffset": 6}}
          }
        },
        {
          "transform": [{"filter": "false"}],
          "mark": {"type": "point", "shape": "square", "filled": true, "opacity": 1},
          "encoding": {
            "x": {"field": "x", "type": "quantitative", "scale": {"domain": [0, 446], "nice": false}, "axis": {"orient": "top", "values": [20, 40, 60, 80, 120, 140, 160, 180, 220, 240, 260, 280, 320, 340, 360, 380, 420, 440], "labels": false, "title": null, "tickSize": -3, "minExtent": 0, "maxExtent": 0}},
            "y": {"field": "y", "type": "quantitative", "scale": {"domain": [0, 0.7], "nice": false}, "axis": {"orient": "right", "values": [0.05, 0.1, 0.15, 0.25, 0.3, 0.35, 0.45, 0.5, 0.55, 0.65], "labels": false, "title": null, "tickSize": -3, "minExtent": 0, "maxExtent": 0}},
            "fill": {"field": "k", "type": "nominal", "scale": {"domain": ["b1", "b2", "b3", "b4"], "range": ["rgba(255,0,255,0.4)", "rgba(255,0,0,0.4)", "rgba(0,0,255,0.4)", "rgba(0,0,0,0.2)"]},
              "legend": {"orient": "none", "legendX": 122, "legendY": 13, "title": null, "symbolType": "square", "symbolSize": 100, "symbolStrokeWidth": 0, "labelExpr": "''", "labelFontSize": 10, "rowPadding": 5, "labelOffset": 6}}
          }
        },
        {"data": {"values": [{}]}, "mark": {"type": "text", "text": "ATLAS", "fontStyle": "italic", "fontWeight": "bold", "fontSize": 12, "align": "left", "baseline": "middle", "x": 15, "y": 9}},
        {"data": {"values": [{}]}, "mark": {"type": "text", "text": "EvSel_M", "fontSize": 12, "align": "left", "baseline": "middle", "x": 15, "y": 23}},
        {"data": {"values": [{}]}, "mark": {"type": "text", "text": "ref", "fontSize": 8, "align": "left", "baseline": "middle", "x": 66, "y": 28}},
        {"data": {"values": [{}]}, "mark": {"type": "text", "text": "0.5 < pT < 5 GeV", "fontSize": 12, "align": "left", "baseline": "middle", "x": 15, "y": 37}},
        {"data": {"values": [{}]}, "mark": {"type": "text", "text": "|η| < 2.5", "fontSize": 12, "align": "left", "baseline": "middle", "x": 15, "y": 51}}
      ]
    }
  ],
  "config": {
    "font": "Liberation Sans",
    "view": {"stroke": "#000", "strokeWidth": 1},
    "text": {"color": "#000", "font": "Liberation Sans"},
    "axis": {"grid": false, "domain": false, "tickColor": "#000", "tickSize": -6, "labelPadding": 10, "labelFontSize": 11.5, "labelColor": "#000", "titleColor": "#000", "titleFontSize": 13, "titleFontWeight": "normal", "labelFont": "Liberation Sans", "titleFont": "Liberation Sans", "labelFlush": false, "labelOverlap": false},
    "legend": {"labelColor": "#000", "labelFont": "Liberation Sans"},
    "title": {"font": "Liberation Sans"}
  }
}
